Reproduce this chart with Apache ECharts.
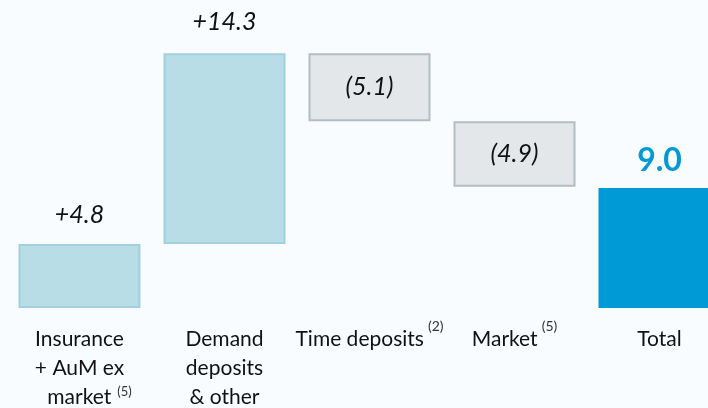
<!DOCTYPE html>
<html><head><meta charset="utf-8">
<script src="https://cdn.jsdelivr.net/npm/echarts@6/dist/echarts.min.js"></script>
<style>html,body{margin:0;padding:0;background:#f8fcfe;}#c{width:708px;height:408px;}</style>
</head><body><div id="c"></div>
<script>
var categories = ['{a|Insurance}\n{a|+ AuM ex}\n{m|market}{t|(5)}', '{a|Demand}\n{a|deposits}\n{a|& other}', '{a|Time deposits}{s|(2)}', '{a|Market}{s|(5)}', '{a|Total}'];
var deltas = [4.8, 14.3, -5.1, -4.9, 9.0];
var isTotal = [false, false, false, false, true];
var valueLabels = ['+4.8', '+14.3', '(5.1)', '(4.9)', '9.0'];

var base = [], bar = [], running = 0;
for (var i = 0; i < deltas.length; i++) {
  if (isTotal[i]) { base.push(0); bar.push(deltas[i]); }
  else if (deltas[i] >= 0) { base.push(running); bar.push(deltas[i]); running += deltas[i]; }
  else { running += deltas[i]; base.push(running); bar.push(-deltas[i]); }
}
var styles = [
  {color:'#b8dde7', borderColor:'#9fd1de'},
  {color:'#b8dde7', borderColor:'#9fd1de'},
  {color:'#e3e7ea', borderColor:'#b3bdc4'},
  {color:'#e3e7ea', borderColor:'#b3bdc4'},
  {color:'#009bd7', borderColor:'#009bd7'}
];
var labelCfg = [
  {position:'top', distance:17},
  {position:'top', distance:19},
  {position:'inside'},
  {position:'inside'},
  {position:'top', distance:11, color:'#0099d6', fontWeight:'bold', fontStyle:'normal', fontSize:32}
];
var data = bar.map(function(v, i){
  return {value: v, itemStyle: Object.assign({borderWidth: 2}, styles[i]),
    label: Object.assign({show:true, formatter: valueLabels[i]}, labelCfg[i])};
});
var chart = echarts.init(document.getElementById('c'));
chart.setOption({
  backgroundColor: '#f8fcfe',
  animation: false,
  grid: {left: 7, width: 725, top: 0, bottom: 100, outerBoundsMode: 'none', containLabel: false},
  xAxis: {type:'category', data: categories,
    axisLine:{show:false}, axisTick:{show:false},
    axisLabel:{interval:0, margin:17, color:'#111', fontFamily:'Lato',
      rich:{
        a:{fontSize:21, lineHeight:29, fontFamily:'Lato', color:'#111'},
        m:{fontSize:21, lineHeight:29, fontFamily:'Lato', color:'#111', padding:[0,6,0,20]},
        s:{fontSize:14, lineHeight:29, fontFamily:'Lato', color:'#333', padding:[0,0,26,4]},
        t:{fontSize:13, lineHeight:29, fontFamily:'Lato', color:'#333', padding:[0,0,12,0]}
      }}},
  yAxis: {type:'value', min:0, max:23.1, show:false, splitLine:{show:false}},
  series: [
    {type:'bar', stack:'w', data: base, barWidth:122, itemStyle:{color:'transparent'}, silent:true},
    {type:'bar', stack:'w', data: data, barWidth:122,
     label:{fontFamily:'Lato', fontStyle:'italic', fontSize:25, color:'#111'}}
  ]
});
</script></body></html>
